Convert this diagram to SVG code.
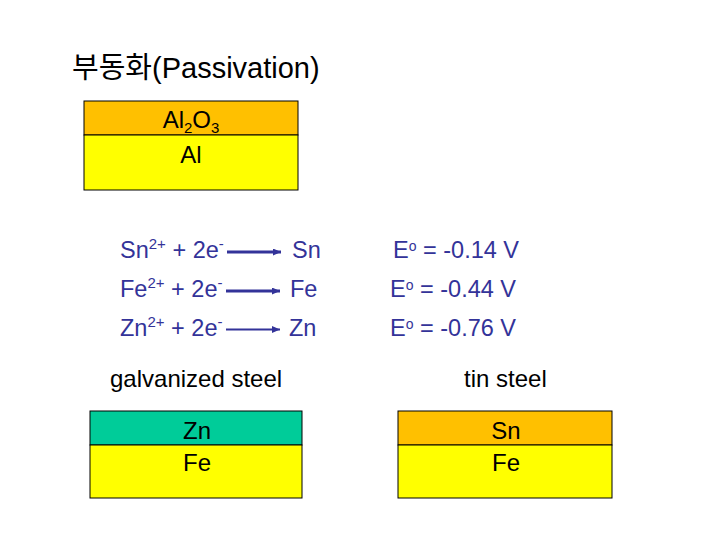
<svg xmlns="http://www.w3.org/2000/svg" width="720" height="540" viewBox="0 0 720 540">
<defs>
<style>
text{font-family:"Liberation Sans","Noto Sans CJK KR",Arial,sans-serif;}
.t{font-size:24px;fill:#000;}
.eq{font-size:23.5px;fill:#333399;}
.lbl{font-size:24px;fill:#000;text-anchor:middle;}
.box{stroke:#000;stroke-width:1;}
.sup{font-size:15px;}
.deg{font-size:14px;}
</style>
<marker id="ah" viewBox="0 0 10 10" refX="10" refY="5" markerWidth="8" markerHeight="7" markerUnits="userSpaceOnUse" orient="auto" preserveAspectRatio="none"><path d="M0,0 L10,5 L0,10 z" fill="#333399"/></marker>
</defs>
<rect width="720" height="540" fill="#fff"/>
<text x="72" y="78" style="font-size:29px;fill:#000">부동화(Passivation)</text>
<g id="al-box">
<rect class="box" x="84" y="101" width="214" height="34" fill="#FFC000"/>
<rect class="box" x="84" y="135" width="214" height="55" fill="#FFFF00"/>
<text class="lbl" x="191" y="128">Al<tspan class="sup" dy="5">2</tspan><tspan dy="-5">O</tspan><tspan class="sup" dy="5">3</tspan></text>
<text class="lbl" x="191" y="163">Al</text>
</g>
<g id="eq-sn">
<text class="eq" x="120" y="258">Sn<tspan class="sup" dy="-9">2+</tspan><tspan dy="9"> + 2e</tspan><tspan class="sup" dy="-9">-</tspan></text>
<text class="eq" x="292" y="258">Sn</text>
<text class="eq" x="393" y="258">E<tspan class="deg" dy="-7">o</tspan><tspan dy="7"> = -0.14 V</tspan></text>
</g>
<g id="eq-fe">
<text class="eq" x="120" y="297">Fe<tspan class="sup" dy="-9">2+</tspan><tspan dy="9"> + 2e</tspan><tspan class="sup" dy="-9">-</tspan></text>
<text class="eq" x="290" y="297">Fe</text>
<text class="eq" x="390" y="297">E<tspan class="deg" dy="-7">o</tspan><tspan dy="7"> = -0.44 V</tspan></text>
</g>
<g id="eq-zn">
<text class="eq" x="120" y="336">Zn<tspan class="sup" dy="-9">2+</tspan><tspan dy="9"> + 2e</tspan><tspan class="sup" dy="-9">-</tspan></text>
<text class="eq" x="289" y="336">Zn</text>
<text class="eq" x="390" y="336">E<tspan class="deg" dy="-7">o</tspan><tspan dy="7"> = -0.76 V</tspan></text>
</g>
<g id="connectors" stroke="#333399" fill="none">
<line x1="227" y1="252" x2="281" y2="252" stroke-width="3" marker-end="url(#ah)"/>
<line x1="226" y1="291" x2="280" y2="291" stroke-width="3" marker-end="url(#ah)"/>
<line x1="226" y1="329.5" x2="280" y2="329.5" stroke-width="2" marker-end="url(#ah)"/>
</g>
<text class="t" x="110" y="387">galvanized steel</text>
<text class="t" x="464" y="387">tin steel</text>
<g id="galv-box">
<rect class="box" x="90" y="411" width="212" height="34" fill="#00CC99"/>
<rect class="box" x="90" y="445" width="212" height="53" fill="#FFFF00"/>
<text class="lbl" x="197" y="439">Zn</text>
<text class="lbl" x="197" y="471">Fe</text>
</g>
<g id="tin-box">
<rect class="box" x="398" y="411" width="214" height="34" fill="#FFC000"/>
<rect class="box" x="398" y="445" width="214" height="53" fill="#FFFF00"/>
<text class="lbl" x="506" y="439">Sn</text>
<text class="lbl" x="506" y="471">Fe</text>
</g>
</svg>
